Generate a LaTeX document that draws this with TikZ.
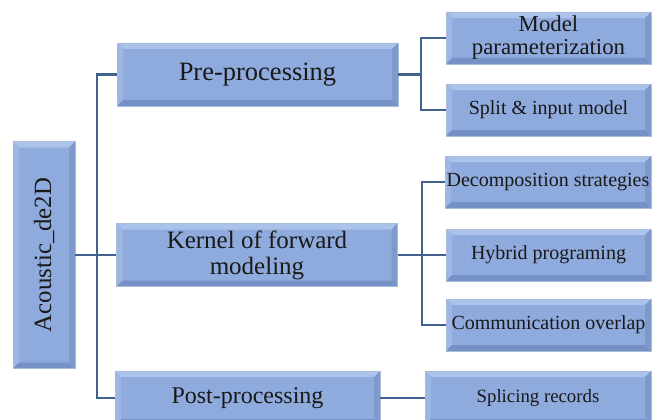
\documentclass[tikz,border=0pt]{standalone}
\usepackage{fontspec}
\setmainfont{Liberation Serif}
\definecolor{boxfill}{HTML}{8FAADC}
\definecolor{boxtop}{HTML}{ABC3EA}
\definecolor{boxleft}{HTML}{9DB6E3}
\definecolor{boxbottom}{HTML}{7591C5}
\definecolor{boxright}{HTML}{7E99CB}
\definecolor{boxline}{HTML}{A9BDDA}
\definecolor{linkcol}{HTML}{41628E}
\tikzset{
  box/.style={draw=boxline, fill=boxfill, line width=0.8pt, inner sep=0pt, align=center, text=black!90,
    path picture={
      \fill[boxtop] (path picture bounding box.north west) -- (path picture bounding box.north east)
        -- ([xshift=-6pt,yshift=-6pt]path picture bounding box.north east)
        -- ([xshift=6pt,yshift=-6pt]path picture bounding box.north west) -- cycle;
      \fill[boxleft] (path picture bounding box.north west) -- (path picture bounding box.south west)
        -- ([xshift=6pt,yshift=6pt]path picture bounding box.south west)
        -- ([xshift=6pt,yshift=-6pt]path picture bounding box.north west) -- cycle;
      \fill[boxbottom] (path picture bounding box.south west) -- (path picture bounding box.south east)
        -- ([xshift=-6pt,yshift=6pt]path picture bounding box.south east)
        -- ([xshift=6pt,yshift=6pt]path picture bounding box.south west) -- cycle;
      \fill[boxright] (path picture bounding box.north east) -- (path picture bounding box.south east)
        -- ([xshift=-6pt,yshift=6pt]path picture bounding box.south east)
        -- ([xshift=-6pt,yshift=-6pt]path picture bounding box.north east) -- cycle;
    }},
  mainbox/.style={box, minimum width=281pt, minimum height=63pt},
  subbox/.style={box, minimum width=205pt, minimum height=52pt, font=\fontsize{20}{22}\selectfont},
  link/.style={draw=linkcol, line width=2pt}
}
\begin{document}
\begin{tikzpicture}[x=1pt,y=-1pt]
  \clip (0,0) rectangle (653,420);
  % root
  \node[box, minimum width=62pt, minimum height=227pt, font=\fontsize{24.8}{26}\selectfont] (root) at (44,255) {\rotatebox{90}{Acoustic\_de2D}};
  % second level
  \node[mainbox, font=\fontsize{26.5}{28}\selectfont] (pre) at (257.5,74.5) {Pre-processing};
  \node[mainbox, font=\fontsize{25}{26}\selectfont] (kernel) at (257,255) {Kernel of forward\\modeling};
  \node[mainbox, minimum width=265pt, minimum height=54pt, font=\fontsize{24}{26}\selectfont] (post) at (247.5,398) {Post-processing};
  % third level
  \node[subbox, font=\fontsize{22.8}{23}\selectfont] (model) at (548.5,38) {Model\\parameterization};
  \node[subbox] (split) at (548.5,110) {Split \& input model};
  \node[subbox, minimum width=206pt] (decomp) at (548,182) {Decomposition strategies};
  \node[subbox] (hybrid) at (548.5,255) {Hybrid programing};
  \node[subbox] (comm) at (548.5,325) {Communication overlap};
  \node[subbox, minimum width=226pt, minimum height=54pt, font=\fontsize{18.8}{20}\selectfont] (splice) at (538,398) {Splicing records};
  % links
  \draw[link] (root.east) -- (root.east -| kernel.west);
  \draw[link] (pre.west) -- ++(-20,0) |- (post.west);
  \draw[link] (pre.east) -- ++(23,0) coordinate (prebus);
  \draw[link] (model.west) -| (prebus) |- (split.west);
  \draw[link] (kernel.east) -- ++(24,0) coordinate (kernbus);
  \draw[link] (decomp.west) -| (kernbus) |- (comm.west);
  \draw[link] (kernbus) -- (hybrid.west);
  \draw[link] (post) -- (splice);
\end{tikzpicture}
\end{document}
